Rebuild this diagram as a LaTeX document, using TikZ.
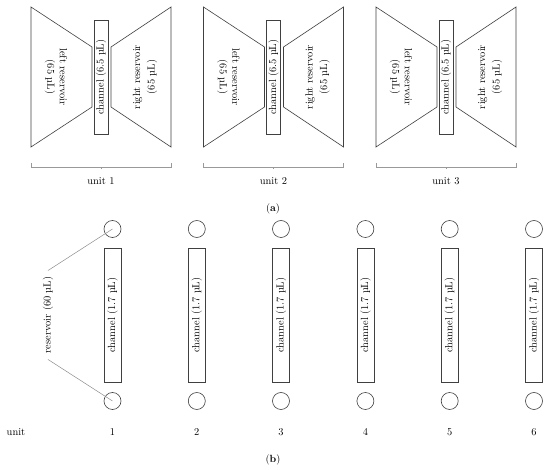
\documentclass[tikz,border=0pt]{standalone}
\begin{document}
\begin{tikzpicture}[x=1pt,y=-1pt,
  txt/.style={font=\fontsize{10.4}{12.5}\selectfont},
  outline/.style={draw=black!75, line width=0.6pt},
  chanA/.style={outline, txt, rotate=90, minimum width=114pt, minimum height=14pt, inner sep=0pt},
  chanB/.style={outline, txt, rotate=90, minimum width=134pt, minimum height=17pt, inner sep=0pt},
  resv/.style={outline, circle, minimum size=17pt, inner sep=0pt},
  lbl/.style={txt, inner sep=1pt},
  bracket/.style={draw=black!40, line width=0.5pt},
  pointer/.style={draw=black!45, line width=0.5pt}]
\useasboundingbox (0,0) rectangle (550,470);
% ---------- (a) ----------
\foreach \i/\cx in {1/101, 2/273.5, 3/446}{
  \draw[outline] (\cx-70,7) -- (\cx-9,47) -- (\cx-9,107) -- (\cx-70,147) -- cycle;
  \draw[outline] (\cx+10,47) -- (\cx+70,7) -- (\cx+70,147) -- (\cx+10,107) -- cycle;
  \node[chanA] (ch\i) at (\cx,77) {channel (6.5 µL)};
  \node[lbl, rotate=-90, align=center] (lr\i) at (\cx-45,77) {left reservoir\\(65 µL)};
  \node[lbl, rotate=90, align=center] (rr\i) at (\cx+44,77) {right reservoir\\[2pt](65 µL)};
  \draw[bracket] (\cx-70,163) -- (\cx-70,167) -- (\cx+70,167) -- (\cx+70,163);
  \draw[bracket] (\cx,167) -- (\cx,169.5);
  \node[lbl] (u\i) at (\cx,181) {unit \i};
}
\node[lbl] (capa) at (273,209) {(\textbf{a})};
% ---------- (b) ----------
\foreach \i/\cx in {1/112.5, 2/196.8, 3/281, 4/365.4, 5/449.7, 6/534}{
  \node[resv] (t\i) at (\cx,229) {};
  \node[chanB] (c\i) at (\cx,315) {channel (1.7 µL)};
  \node[resv] (b\i) at (\cx,401) {};
  \node[lbl] (n\i) at (\cx,432) {\i};
}
\node[lbl] (unitlbl) at (16,432) {unit};
\node[lbl, rotate=90, inner xsep=6pt] (res) at (48,315) {reservoir (60 µL)};
\draw[pointer] (res.east) -- (t1.center);
\draw[pointer] (res.west) -- (b1.center);
\node[lbl] (capb) at (273,460) {(\textbf{b})};
\end{tikzpicture}
\end{document}
